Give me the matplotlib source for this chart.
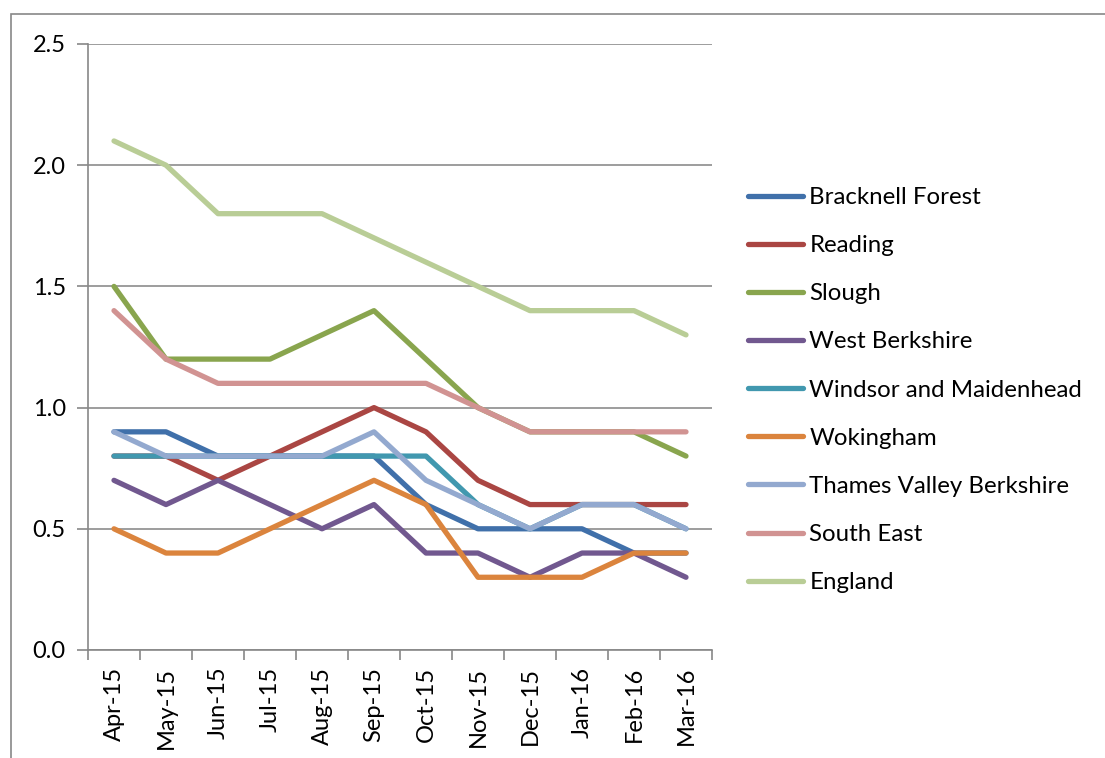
import matplotlib
matplotlib.use("Agg")
import matplotlib.pyplot as plt
from matplotlib.patches import Rectangle

plt.rcParams['font.family'] = ['Lato', 'DejaVu Sans']

months = ["Apr-15", "May-15", "Jun-15", "Jul-15", "Aug-15", "Sep-15",
          "Oct-15", "Nov-15", "Dec-15", "Jan-16", "Feb-16", "Mar-16"]

bracknell = [0.9, 0.9, 0.8, 0.8, 0.8, 0.8, 0.6, 0.5, 0.5, 0.5, 0.4, 0.4]
reading = [0.8, 0.8, 0.7, 0.8, 0.9, 1.0, 0.9, 0.7, 0.6, 0.6, 0.6, 0.6]
slough = [1.5, 1.2, 1.2, 1.2, 1.3, 1.4, 1.2, 1.0, 0.9, 0.9, 0.9, 0.8]
west_berks = [0.7, 0.6, 0.7, 0.6, 0.5, 0.6, 0.4, 0.4, 0.3, 0.4, 0.4, 0.3]
windsor = [0.8, 0.8, 0.8, 0.8, 0.8, 0.8, 0.8, 0.6, 0.5, 0.6, 0.6, 0.5]
wokingham = [0.5, 0.4, 0.4, 0.5, 0.6, 0.7, 0.6, 0.3, 0.3, 0.3, 0.4, 0.4]
thames_valley = [0.9, 0.8, 0.8, 0.8, 0.8, 0.9, 0.7, 0.6, 0.5, 0.6, 0.6, 0.5]
south_east = [1.4, 1.2, 1.1, 1.1, 1.1, 1.1, 1.1, 1.0, 0.9, 0.9, 0.9, 0.9]
england = [2.1, 2.0, 1.8, 1.8, 1.8, 1.7, 1.6, 1.5, 1.4, 1.4, 1.4, 1.3]

series = [
    ("Bracknell Forest", bracknell, "#4070AA"),
    ("Reading", reading, "#AA4643"),
    ("Slough", slough, "#89A54E"),
    ("West Berkshire", west_berks, "#71588F"),
    ("Windsor and Maidenhead", windsor, "#4198AF"),
    ("Wokingham", wokingham, "#DB843D"),
    ("Thames Valley Berkshire", thames_valley, "#93A9CF"),
    ("South East", south_east, "#D19392"),
    ("England", england, "#B9CD96"),
]

W, H = 1105, 758
fig = plt.figure(figsize=(W / 100, H / 100), dpi=100)
# outer chart border
fig.patches.append(Rectangle((11 / W, -0.1), 1.2, (H - 14) / H + 0.1,
                             transform=fig.transFigure, fill=False,
                             edgecolor="#888888", linewidth=1.2))

ax = fig.add_axes([88 / W, 1 - 650 / H, (712 - 88) / W, (650 - 44) / H])
x = list(range(len(months)))
for name, vals, col in series:
    ax.plot(x, vals, color=col, lw=3.8, label=name,
            solid_capstyle="round", solid_joinstyle="round")

ax.set_xlim(-0.5, len(months) - 0.5)
ax.set_ylim(0, 2.5)
ax.set_yticks([0, 0.5, 1.0, 1.5, 2.0, 2.5])
ax.set_yticklabels(["0.0", "0.5", "1.0", "1.5", "2.0", "2.5"])
ax.yaxis.grid(True, color="#8C8C8C", lw=1.2)
ax.set_axisbelow(True)
ax.set_xticks(x)
ax.set_xticklabels(months, rotation=90)
ax.set_xticks([i - 0.5 for i in range(len(months) + 1)], minor=True)
ax.tick_params(axis="x", which="major", length=0, pad=12, labelsize=17)
ax.tick_params(axis="x", which="minor", length=7, color="#888888", width=1.2)
ax.tick_params(axis="y", length=8, color="#888888", width=1.2, pad=8,
               labelsize=17)
for s in ["top", "right"]:
    ax.spines[s].set_visible(False)
for s in ["left", "bottom"]:
    ax.spines[s].set_color("#888888")
    ax.spines[s].set_linewidth(1.2)

leg = ax.legend(loc="upper left", bbox_to_anchor=(748 / W, 1 - 187 / H),
                bbox_transform=fig.transFigure, frameon=False, fontsize=17.3,
                handlelength=2.3, handletextpad=0.25, labelspacing=1.13,
                borderaxespad=0, borderpad=0)

fig.savefig("out.png", dpi=100)
